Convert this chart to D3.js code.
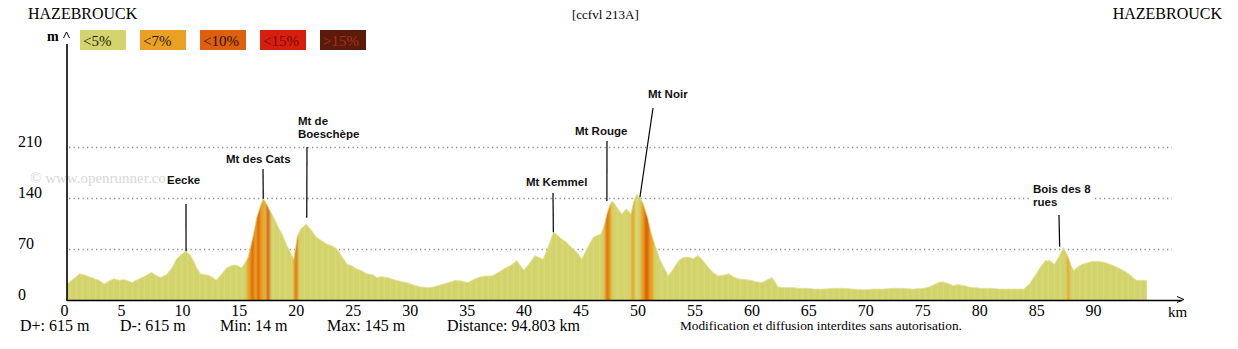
<!DOCTYPE html>
<html>
<head>
<meta charset="utf-8">
<script src="https://cdn.jsdelivr.net/npm/d3@7"></script>
<style>
  html, body { margin: 0; padding: 0; background: #fff; }
  svg { display: block; }
</style>
</head>
<body>
<svg id="chart" width="1238" height="349"></svg>
<script>
// Elevation profile: distance (km) and altitude (m)
const distKm = [
  0, 0.5, 1.1, 1.6, 2.3, 2.8, 3.3, 3.7, 4.1, 4.6, 5.0, 5.4, 5.7, 6.2, 6.6, 7.0, 7.4, 7.8, 8.2, 8.75,
  9.2, 9.6, 10.0, 10.45, 10.8, 11.1, 11.4, 11.7, 12.4, 12.8, 13.1, 13.6, 14.0, 14.4, 14.75, 15.0, 15.3, 15.6, 15.9, 16.3,
  16.65, 17.0, 17.23, 17.5, 17.8, 18.2, 18.55, 18.9, 19.3, 19.6, 19.9, 20.05, 20.2, 20.5, 21.0, 21.4, 21.9, 22.3, 22.8, 23.3,
  23.7, 24.2, 24.6, 25.0, 25.4, 25.9, 26.3, 26.8, 27.2, 27.6, 28.1, 28.5, 28.9, 29.4, 29.8, 30.4, 31.0, 31.7, 32.2, 32.6,
  33.3, 34.1, 34.6, 35.2, 35.7, 36.1, 36.7, 37.3, 37.9, 38.5, 39.0, 39.5, 40.1, 40.6, 41.1, 41.5, 41.8, 42.3, 42.7, 43.0,
  43.4, 43.8, 44.3, 44.8, 45.2, 45.7, 46.2, 46.6, 46.9, 47.2, 47.4, 47.6, 47.8, 48.0, 48.3, 48.7, 49.1, 49.3, 49.5, 49.75,
  50.0, 50.3, 50.6, 51.0, 51.3, 51.7, 52.1, 52.5, 52.8, 53.2, 53.7, 54.1, 54.5, 55.0, 55.4, 55.8, 56.3, 56.7, 57.2, 57.6,
  58.1, 58.5, 58.9, 59.5, 60.1, 60.5, 61.0, 61.4, 61.9, 62.2, 62.4, 63.0, 63.7, 64.3, 64.9, 65.6, 66.4, 67.3, 68.2, 69.0,
  69.9, 70.8, 71.7, 72.5, 73.4, 74.3, 75.2, 75.7, 76.1, 76.5, 76.9, 77.3, 77.8, 78.2, 78.7, 79.2, 79.6, 80.3, 81.0, 81.8,
  82.5, 83.3, 84.0, 84.5, 85.1, 85.5, 85.9, 86.3, 86.7, 87.1, 87.5, 87.9, 88.2, 88.4, 88.7, 89.1, 89.6, 90.0, 90.5, 91.0,
  91.6, 92.2, 92.8, 93.3, 93.7, 93.9, 94.803
];
const elevM = [
  22, 28, 36, 34, 30, 27, 22, 26, 29, 27, 28, 26, 24, 28, 31, 34, 38, 34, 31, 35,
  44, 56, 62, 67, 62, 54, 44, 36, 34, 31, 27, 36, 44, 47, 48, 47, 44, 50, 59, 85,
  113, 130, 139, 133, 123, 112, 100, 90, 75, 66, 56, 70, 86, 97, 104, 97, 86, 82, 77, 74,
  70, 58, 49, 47, 43, 40, 36, 35, 31, 32, 31, 29, 27, 25, 24, 21, 18, 17, 18, 20,
  23, 27, 26, 24, 28, 31, 33, 33, 38, 44, 48, 54, 41, 50, 61, 58, 56, 75, 93, 90,
  84, 80, 72, 65, 56, 72, 86, 89, 91, 105, 118, 128, 135, 134, 127, 118, 125, 122, 118, 135,
  145, 140, 132, 112, 91, 72, 54, 42, 33, 42, 54, 58, 59, 57, 61, 55, 45, 38, 33, 34,
  36, 32, 29, 28, 27, 25, 24, 27, 31, 24, 18, 17, 17, 16, 16, 15, 15, 16, 16, 15,
  14, 15, 15, 16, 16, 15, 16, 18, 21, 24, 25, 23, 20, 21, 20, 18, 17, 16, 16, 15,
  15, 15, 15, 22, 36, 46, 54, 54, 49, 60, 72, 59, 46, 40, 45, 49, 51, 53, 53, 52,
  49, 45, 40, 35, 29, 27, 27
];

// Axis ticks
const yTicks = [0, 70, 140, 210];
const xTicks = [0, 5, 10, 15, 20, 25, 30, 35, 40, 45, 50, 55, 60, 65, 70, 75, 80, 85, 90];

// Gradient classes (legend)
const gradeLabels = ["<5%", "<7%", "<10%", "<15%", ">15%"];
const gradeColors = ["#d3d46e", "#e9a123", "#de600f", "#d6200f", "#5b1b0a"];
const gradeTextColors = ["#1a1a00", "#2a1800", "#2a0d00", "#7a0500", "#a8301c"];

// Steep sections: start km, end km, gradient class index
const bandFrom  = [15.8, 16.15, 16.7, 17.5, 19.9, 20.05, 47.2, 47.35, 49.55, 50.4, 50.7, 87.8];
const bandTo    = [17.35, 16.4, 16.95, 17.8, 20.3, 20.2, 47.8, 47.55, 49.8, 51.5, 51.1, 88.0];
const bandClass = [1, 2, 2, 2, 1, 2, 1, 2, 1, 1, 2, 1];

// Named summits along the route
const summitNames = ["Eecke", "Mt des Cats", "Mt de\nBoeschèpe", "Mt Kemmel", "Mt Rouge", "Mt Noir", "Bois des 8\nrues"];
const summitKm    = [10.45, 17.23, 21.05, 42.7, 47.4, 50.3, 87.15];
const summitElev  = [67, 139, 113, 93, 136, 141, 73];

// Route summary
const titleStart = "HAZEBROUCK";
const titleEnd = "HAZEBROUCK";
const routeCode = "[ccfvl 213A]";
const summary = ["D+: 615 m", "D-: 615 m", "Min: 14 m", "Max: 145 m", "Distance: 94.803 km"];
const notice = "Modification et diffusion interdites sans autorisation.";

const serif = "'Liberation Serif', 'Times New Roman', serif";
const sans = "'Liberation Sans', Arial, sans-serif";

const svg = d3.select("#chart");
const x = d3.scaleLinear().domain([0, 100]).range([67, 1206]);
const y = d3.scaleLinear().domain([0, 210]).range([300, 147]);

const profile = distKm.map((k, i) => ({ km: k, e: elevM[i] }));
const lastKm = distKm[distKm.length - 1];

const defs = svg.append("defs");

// Watermark (partly hidden behind the first summit label)
defs.append("clipPath").attr("id", "wmClip")
  .append("rect").attr("x", 0).attr("y", 160).attr("width", 165).attr("height", 30);
svg.append("text")
  .attr("x", 30).attr("y", 183)
  .attr("clip-path", "url(#wmClip)")
  .attr("font-family", serif).attr("font-size", 15)
  .attr("fill", "#d8d8d8")
  .text("© www.openrunner.com");

// Dotted grid
svg.append("g").selectAll("line")
  .data(yTicks.filter(t => t > 0))
  .join("line")
  .attr("x1", x(0) + 2).attr("x2", 1172)
  .attr("y1", d => Math.round(y(d)) + 0.5).attr("y2", d => Math.round(y(d)) + 0.5)
  .attr("stroke", "#8c8c8c").attr("stroke-width", 1.3)
  .attr("stroke-dasharray", "1.3 3.2");

// Profile area
const area = d3.area()
  .x(d => x(d.km))
  .y0(y(0))
  .y1(d => y(d.e));

defs.append("clipPath").attr("id", "profileClip")
  .append("path").attr("d", area(profile));
defs.append("filter").attr("id", "soft")
  .attr("x", "-50%").attr("width", "200%")
  .append("feGaussianBlur").attr("stdDeviation", "0.9 0");

svg.append("path")
  .attr("d", area(profile))
  .attr("fill", gradeColors[0]);

const clipped = svg.append("g").attr("clip-path", "url(#profileClip)");

// Vertical striping of the fill
clipped.append("g").selectAll("line")
  .data(d3.range(0, lastKm, 0.27))
  .join("line")
  .attr("x1", d => Math.round(x(d)) + 0.5).attr("x2", d => Math.round(x(d)) + 0.5)
  .attr("y1", y(0)).attr("y2", y(160))
  .attr("stroke", (d, i) => i % 2 ? "#dadb80" : "#cfd066")
  .attr("stroke-width", 1)
  .attr("opacity", 0.55);

// Steep sections
clipped.append("g").attr("filter", "url(#soft)")
  .selectAll("rect")
  .data(bandFrom.map((f, i) => ({ from: f, to: bandTo[i], c: bandClass[i] })))
  .join("rect")
  .attr("x", d => x(d.from))
  .attr("width", d => x(d.to) - x(d.from))
  .attr("y", y(170))
  .attr("height", y(0) - y(170))
  .attr("fill", d => gradeColors[d.c]);

// Light rim along the profile top
const line = d3.line().x(d => x(d.km)).y(d => y(d.e));
svg.append("path")
  .attr("d", line(profile))
  .attr("fill", "none")
  .attr("stroke", "#e4e59c")
  .attr("stroke-width", 1)
  .attr("opacity", 0.8);

// Axis lines with arrow heads
svg.append("line")
  .attr("x1", x(0)).attr("x2", x(0))
  .attr("y1", 44).attr("y2", y(0) + 1)
  .attr("stroke", "#000").attr("stroke-width", 1.6);
svg.append("line")
  .attr("x1", x(0)).attr("x2", 1182)
  .attr("y1", y(0) + 0.5).attr("y2", y(0) + 0.5)
  .attr("stroke", "#000").attr("stroke-width", 1.6);
svg.append("path")
  .attr("d", "M1177,296.5 L1184,299.5 L1177,302.5")
  .attr("fill", "none").attr("stroke", "#000").attr("stroke-width", 1);
svg.append("path")
  .attr("d", "M63.5,38 L66.5,32 L69.5,38")
  .attr("fill", "none").attr("stroke", "#000").attr("stroke-width", 1);
svg.append("text")
  .attr("x", 47).attr("y", 41)
  .attr("font-family", serif).attr("font-size", 14).attr("font-weight", "bold")
  .text("m");
svg.append("text")
  .attr("x", 1168).attr("y", 317)
  .attr("font-family", serif).attr("font-size", 15)
  .text("km");

// X axis tick labels
const xAxis = d3.axisBottom(x).tickValues(xTicks).tickSize(0).tickPadding(0).tickFormat(d3.format("d"));
const gx = svg.append("g").attr("transform", `translate(0,${y(0)})`).call(xAxis);
gx.select(".domain").remove();
gx.selectAll("text")
  .attr("text-anchor", "start")
  .attr("dx", -7)
  .attr("y", 16)
  .attr("dy", 0)
  .attr("font-family", serif).attr("font-size", 16).attr("fill", "#000");

// Y axis tick labels
const yAxis = d3.axisLeft(y).tickValues(yTicks).tickSize(0).tickPadding(0).tickFormat(d3.format("d"));
const gy = svg.append("g").attr("transform", `translate(${x(0)},0)`).call(yAxis);
gy.select(".domain").remove();
gy.selectAll("text")
  .attr("text-anchor", "start")
  .attr("x", 18 - x(0))
  .attr("dy", -1)
  .attr("font-family", serif).attr("font-size", 16).attr("fill", "#000");

// Legend
const legend = svg.append("g").selectAll("g")
  .data(gradeLabels)
  .join("g")
  .attr("transform", (d, i) => `translate(${80 + i * 60},30)`);
legend.append("rect")
  .attr("width", 46).attr("height", 20)
  .attr("fill", (d, i) => gradeColors[i]);
legend.append("text")
  .attr("x", 3).attr("y", 16)
  .attr("font-family", serif).attr("font-size", 15)
  .attr("fill", (d, i) => gradeTextColors[i])
  .text(d => d);

// Titles
svg.append("text").attr("x", 28).attr("y", 19)
  .attr("font-family", serif).attr("font-size", 16).text(titleStart);
svg.append("text").attr("x", 1222).attr("y", 19).attr("text-anchor", "end")
  .attr("font-family", serif).attr("font-size", 16).text(titleEnd);
svg.append("text").attr("x", 572).attr("y", 19)
  .attr("font-family", serif).attr("font-size", 13).text(routeCode);

// Summary line
const summaryX = [20, 120, 220, 327, 447];
svg.append("g").selectAll("text")
  .data(summary)
  .join("text")
  .attr("x", (d, i) => summaryX[i]).attr("y", 331)
  .attr("font-family", serif).attr("font-size", 16)
  .text(d => d);
svg.append("text").attr("x", 680).attr("y", 330)
  .attr("font-family", serif).attr("font-size", 13.3).text(notice);

// Summit annotations: label position (x, first baseline) and leader top
const labelPos = [
  { tx: 167, ty: 184, lx: 186, ly: 204 },
  { tx: 226, ty: 163, lx: 263, ly: 169 },
  { tx: 298, ty: 125, lx: 307, ly: 147 },
  { tx: 526, ty: 186, lx: 553, ly: 193 },
  { tx: 575, ty: 135, lx: 607, ly: 141 },
  { tx: 648, ty: 98,  lx: 653, ly: 108 },
  { tx: 1033, ty: 193, lx: 1059, ly: 215 }
];
const ann = svg.append("g");
summitNames.forEach((name, i) => {
  const p = labelPos[i];
  const lines = name.split("\n");
  ann.append("line")
    .attr("x1", p.lx).attr("y1", p.ly)
    .attr("x2", x(summitKm[i])).attr("y2", y(summitElev[i]))
    .attr("stroke", "#000").attr("stroke-width", 1.2);
  const t = ann.append("text")
    .attr("font-family", sans).attr("font-size", 11.5).attr("font-weight", "bold")
    .attr("fill", "#111");
  lines.forEach((s, j) => {
    t.append("tspan").attr("x", p.tx).attr("y", p.ty + j * 13).text(s);
  });
  const bb = t.node().getBBox();
  ann.insert("rect", () => t.node())
    .attr("x", bb.x - 1).attr("y", bb.y - 1)
    .attr("width", bb.width + 2).attr("height", bb.height + 3)
    .attr("fill", "#fff");
});
</script>
</body>
</html>
